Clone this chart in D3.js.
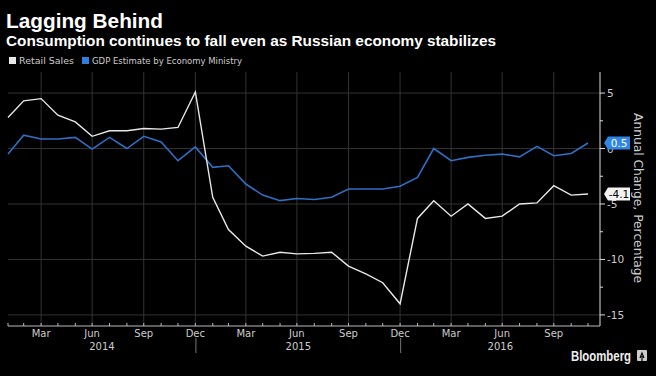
<!DOCTYPE html>
<html>
<head>
<meta charset="utf-8">
<script src="https://cdn.jsdelivr.net/npm/d3@7"></script>
<style>
  html, body { margin: 0; padding: 0; background: #000; }
  svg { display: block; }
</style>
</head>
<body>
<svg id="chart" width="656" height="376"></svg>
<script>
// data (annual change in %)
const months = [
  "2014-01","2014-02","2014-03","2014-04","2014-05","2014-06","2014-07","2014-08","2014-09","2014-10","2014-11","2014-12",
  "2015-01","2015-02","2015-03","2015-04","2015-05","2015-06","2015-07","2015-08","2015-09","2015-10","2015-11","2015-12",
  "2016-01","2016-02","2016-03","2016-04","2016-05","2016-06","2016-07","2016-08","2016-09","2016-10","2016-11"
];
const retailSales = [
  2.8, 4.3, 4.5, 3.0, 2.4, 1.1, 1.6, 1.6, 1.8, 1.75, 1.9, 5.1,
  -4.4, -7.3, -8.8, -9.7, -9.35, -9.5, -9.45, -9.35, -10.6, -11.3, -12.1, -14.0,
  -6.3, -4.7, -6.1, -5.0, -6.3, -6.1, -5.0, -4.9, -3.35, -4.2, -4.1
];
const gdpEstimate = [
  -0.5, 1.2, 0.86, 0.86, 1.0, -0.05, 1.0, 0.0, 1.1, 0.6, -1.1, 0.15,
  -1.7, -1.55, -3.2, -4.2, -4.7, -4.5, -4.6, -4.4, -3.65, -3.65, -3.65, -3.4,
  -2.6, 0.0, -1.1, -0.8, -0.6, -0.5, -0.75, 0.2, -0.65, -0.45, 0.5
];
const yTicks = [5, 0, -5, -10, -15];
const yMinorTicks = [2.5, -2.5, -7.5, -12.5];
const monthLabels = ["Mar", "Jun", "Sep", "Dec"];
const years = [2014, 2015, 2016];
const lastLabels = ["0.5", "-4.1"];

const svg = d3.select("#chart");
const font = "'DejaVu Sans', sans-serif";
const boldFont = "'Liberation Sans', Arial, sans-serif";
const white = "#e8e8e8";
const blue = "#2f6fc4";
const grid = "#333";

// points sit at month ends, like Bloomberg does
const parseMonth = d3.timeParse("%Y-%m");
const monthEnd = m => d3.timeDay.offset(d3.timeMonth.offset(parseMonth(m), 1), -1);
const dates = months.map(monthEnd);

const plotLeft = 8, plotRight = 600, plotTop = 72, plotBottom = 326;

const x = d3.scaleTime()
  .domain([dates[0], dates[dates.length - 1]])
  .range([8, 588]);
const y = d3.scaleLinear().domain([-16, 6.9]).range([plotBottom, plotTop]);

// titles
svg.append("text")
  .attr("x", 6).attr("y", 28)
  .attr("fill", "#fff")
  .attr("font-family", boldFont).attr("font-weight", "bold").attr("font-size", 21)
  .attr("textLength", 157).attr("lengthAdjust", "spacingAndGlyphs")
  .text("Lagging Behind");
svg.append("text")
  .attr("x", 6).attr("y", 46)
  .attr("fill", "#fff")
  .attr("font-family", boldFont).attr("font-weight", "bold").attr("font-size", 15.5)
  .attr("textLength", 490).attr("lengthAdjust", "spacingAndGlyphs")
  .text("Consumption continues to fall even as Russian economy stabilizes");

// legend
const legend = [
  { name: "Retail Sales", color: white, x: 9, w: 55 },
  { name: "GDP Estimate by Economy Ministry", color: "#2f7fe0", x: 82, w: 150 }
];
legend.forEach(l => {
  svg.append("rect").attr("x", l.x).attr("y", 57).attr("width", 7).attr("height", 7).attr("fill", l.color);
  svg.append("text")
    .attr("x", l.x + 10).attr("y", 64)
    .attr("fill", "#ccc")
    .attr("font-family", font).attr("font-size", 9.5)
    .attr("textLength", l.w).attr("lengthAdjust", "spacingAndGlyphs")
    .text(l.name);
});

// grid
svg.append("g")
  .selectAll("line")
  .data(yTicks)
  .join("line")
  .attr("x1", plotLeft).attr("x2", plotRight)
  .attr("y1", d => y(d)).attr("y2", d => y(d))
  .attr("stroke", grid);

const quarterDates = dates.filter(d => monthLabels.includes(d3.timeFormat("%b")(d)));
svg.append("g")
  .selectAll("line")
  .data(quarterDates)
  .join("line")
  .attr("x1", d => x(d)).attr("x2", d => x(d))
  .attr("y1", plotTop).attr("y2", plotBottom)
  .attr("stroke", grid);

// x axis
svg.append("line")
  .attr("x1", plotLeft).attr("x2", plotRight)
  .attr("y1", plotBottom).attr("y2", plotBottom)
  .attr("stroke", "#bbb");
svg.append("g")
  .selectAll("line")
  .data(dates)
  .join("line")
  .attr("x1", d => x(d)).attr("x2", d => x(d))
  .attr("y1", plotBottom - 3).attr("y2", plotBottom)
  .attr("stroke", "#bbb");

svg.append("g")
  .selectAll("text")
  .data(quarterDates)
  .join("text")
  .attr("x", d => x(d)).attr("y", 337)
  .attr("text-anchor", "middle")
  .attr("fill", "#ccc")
  .attr("font-family", font).attr("font-size", 10)
  .text(d => d3.timeFormat("%b")(d));

// year labels centred on each year's visible span
years.forEach(yr => {
  const a = Math.max(plotLeft, x(new Date(yr, 0, 1)));
  const b = Math.min(plotRight, x(new Date(yr + 1, 0, 1)));
  svg.append("text")
    .attr("x", (a + b) / 2).attr("y", 350)
    .attr("text-anchor", "middle")
    .attr("fill", "#ccc")
    .attr("font-family", font).attr("font-size", 10)
    .text(yr);
  if (yr > years[0]) {
    const sx = x(new Date(yr, 0, 1));
    svg.append("line")
      .attr("x1", sx).attr("x2", sx)
      .attr("y1", 338).attr("y2", 353)
      .attr("stroke", "#777");
  }
});

// y axis on the right
svg.append("line")
  .attr("x1", plotRight).attr("x2", plotRight)
  .attr("y1", plotTop).attr("y2", plotBottom)
  .attr("stroke", "#ddd");
svg.append("g")
  .selectAll("line")
  .data(yTicks)
  .join("line")
  .attr("x1", plotRight).attr("x2", plotRight + 5)
  .attr("y1", d => y(d)).attr("y2", d => y(d))
  .attr("stroke", "#ddd");
svg.append("g")
  .selectAll("line")
  .data(yMinorTicks)
  .join("line")
  .attr("x1", plotRight).attr("x2", plotRight + 3)
  .attr("y1", d => y(d)).attr("y2", d => y(d))
  .attr("stroke", "#ddd");
svg.append("g")
  .selectAll("text")
  .data(yTicks)
  .join("text")
  .attr("x", plotRight + 7).attr("y", d => y(d) + 4)
  .attr("fill", "#ccc")
  .attr("font-family", font).attr("font-size", 10.5)
  .text(d => d);

svg.append("text")
  .attr("transform", "translate(634,198) rotate(90)")
  .attr("text-anchor", "middle")
  .attr("fill", "#ccc")
  .attr("font-family", font).attr("font-size", 12)
  .attr("textLength", 170).attr("lengthAdjust", "spacingAndGlyphs")
  .text("Annual Change, Percentage");

// lines
const line = d3.line()
  .x((d, i) => x(dates[i]))
  .y(d => y(d));

svg.append("path")
  .datum(gdpEstimate)
  .attr("d", line)
  .attr("fill", "none")
  .attr("stroke", blue)
  .attr("stroke-width", 1.6);

svg.append("path")
  .datum(retailSales)
  .attr("d", line)
  .attr("fill", "none")
  .attr("stroke", white)
  .attr("stroke-width", 1.4);

// last value flags
const flags = [
  { v: gdpEstimate[gdpEstimate.length - 1], label: lastLabels[0], bg: "#2f86e6", fg: "#fff" },
  { v: retailSales[retailSales.length - 1], label: lastLabels[1], bg: "#f2f2f2", fg: "#000" }
];
flags.forEach(f => {
  const cy = y(f.v), x0 = 604, w = 26, h = 13;
  svg.append("path")
    .attr("d", `M${x0},${cy} L${x0 + 4},${cy - h / 2} L${x0 + w},${cy - h / 2} L${x0 + w},${cy + h / 2} L${x0 + 4},${cy + h / 2} Z`)
    .attr("fill", f.bg);
  svg.append("text")
    .attr("x", x0 + 4 + (w - 4) / 2).attr("y", cy + 4)
    .attr("text-anchor", "middle")
    .attr("fill", f.fg)
    .attr("font-family", font).attr("font-size", 10.5)
    .text(f.label);
});

// source mark
svg.append("text")
  .attr("x", 571).attr("y", 361)
  .attr("fill", "#eee")
  .attr("font-family", boldFont).attr("font-weight", "bold").attr("font-size", 14)
  .attr("textLength", 60).attr("lengthAdjust", "spacingAndGlyphs")
  .text("Bloomberg");
svg.append("rect")
  .attr("x", 637).attr("y", 350).attr("width", 10).attr("height", 11).attr("rx", 1)
  .attr("fill", "#ccc");
svg.append("path")
  .attr("d", "M640,358 L642,353 L644,358 M642,356 L642,361")
  .attr("stroke", "#000").attr("stroke-width", 1.2).attr("fill", "none");
</script>
</body>
</html>
